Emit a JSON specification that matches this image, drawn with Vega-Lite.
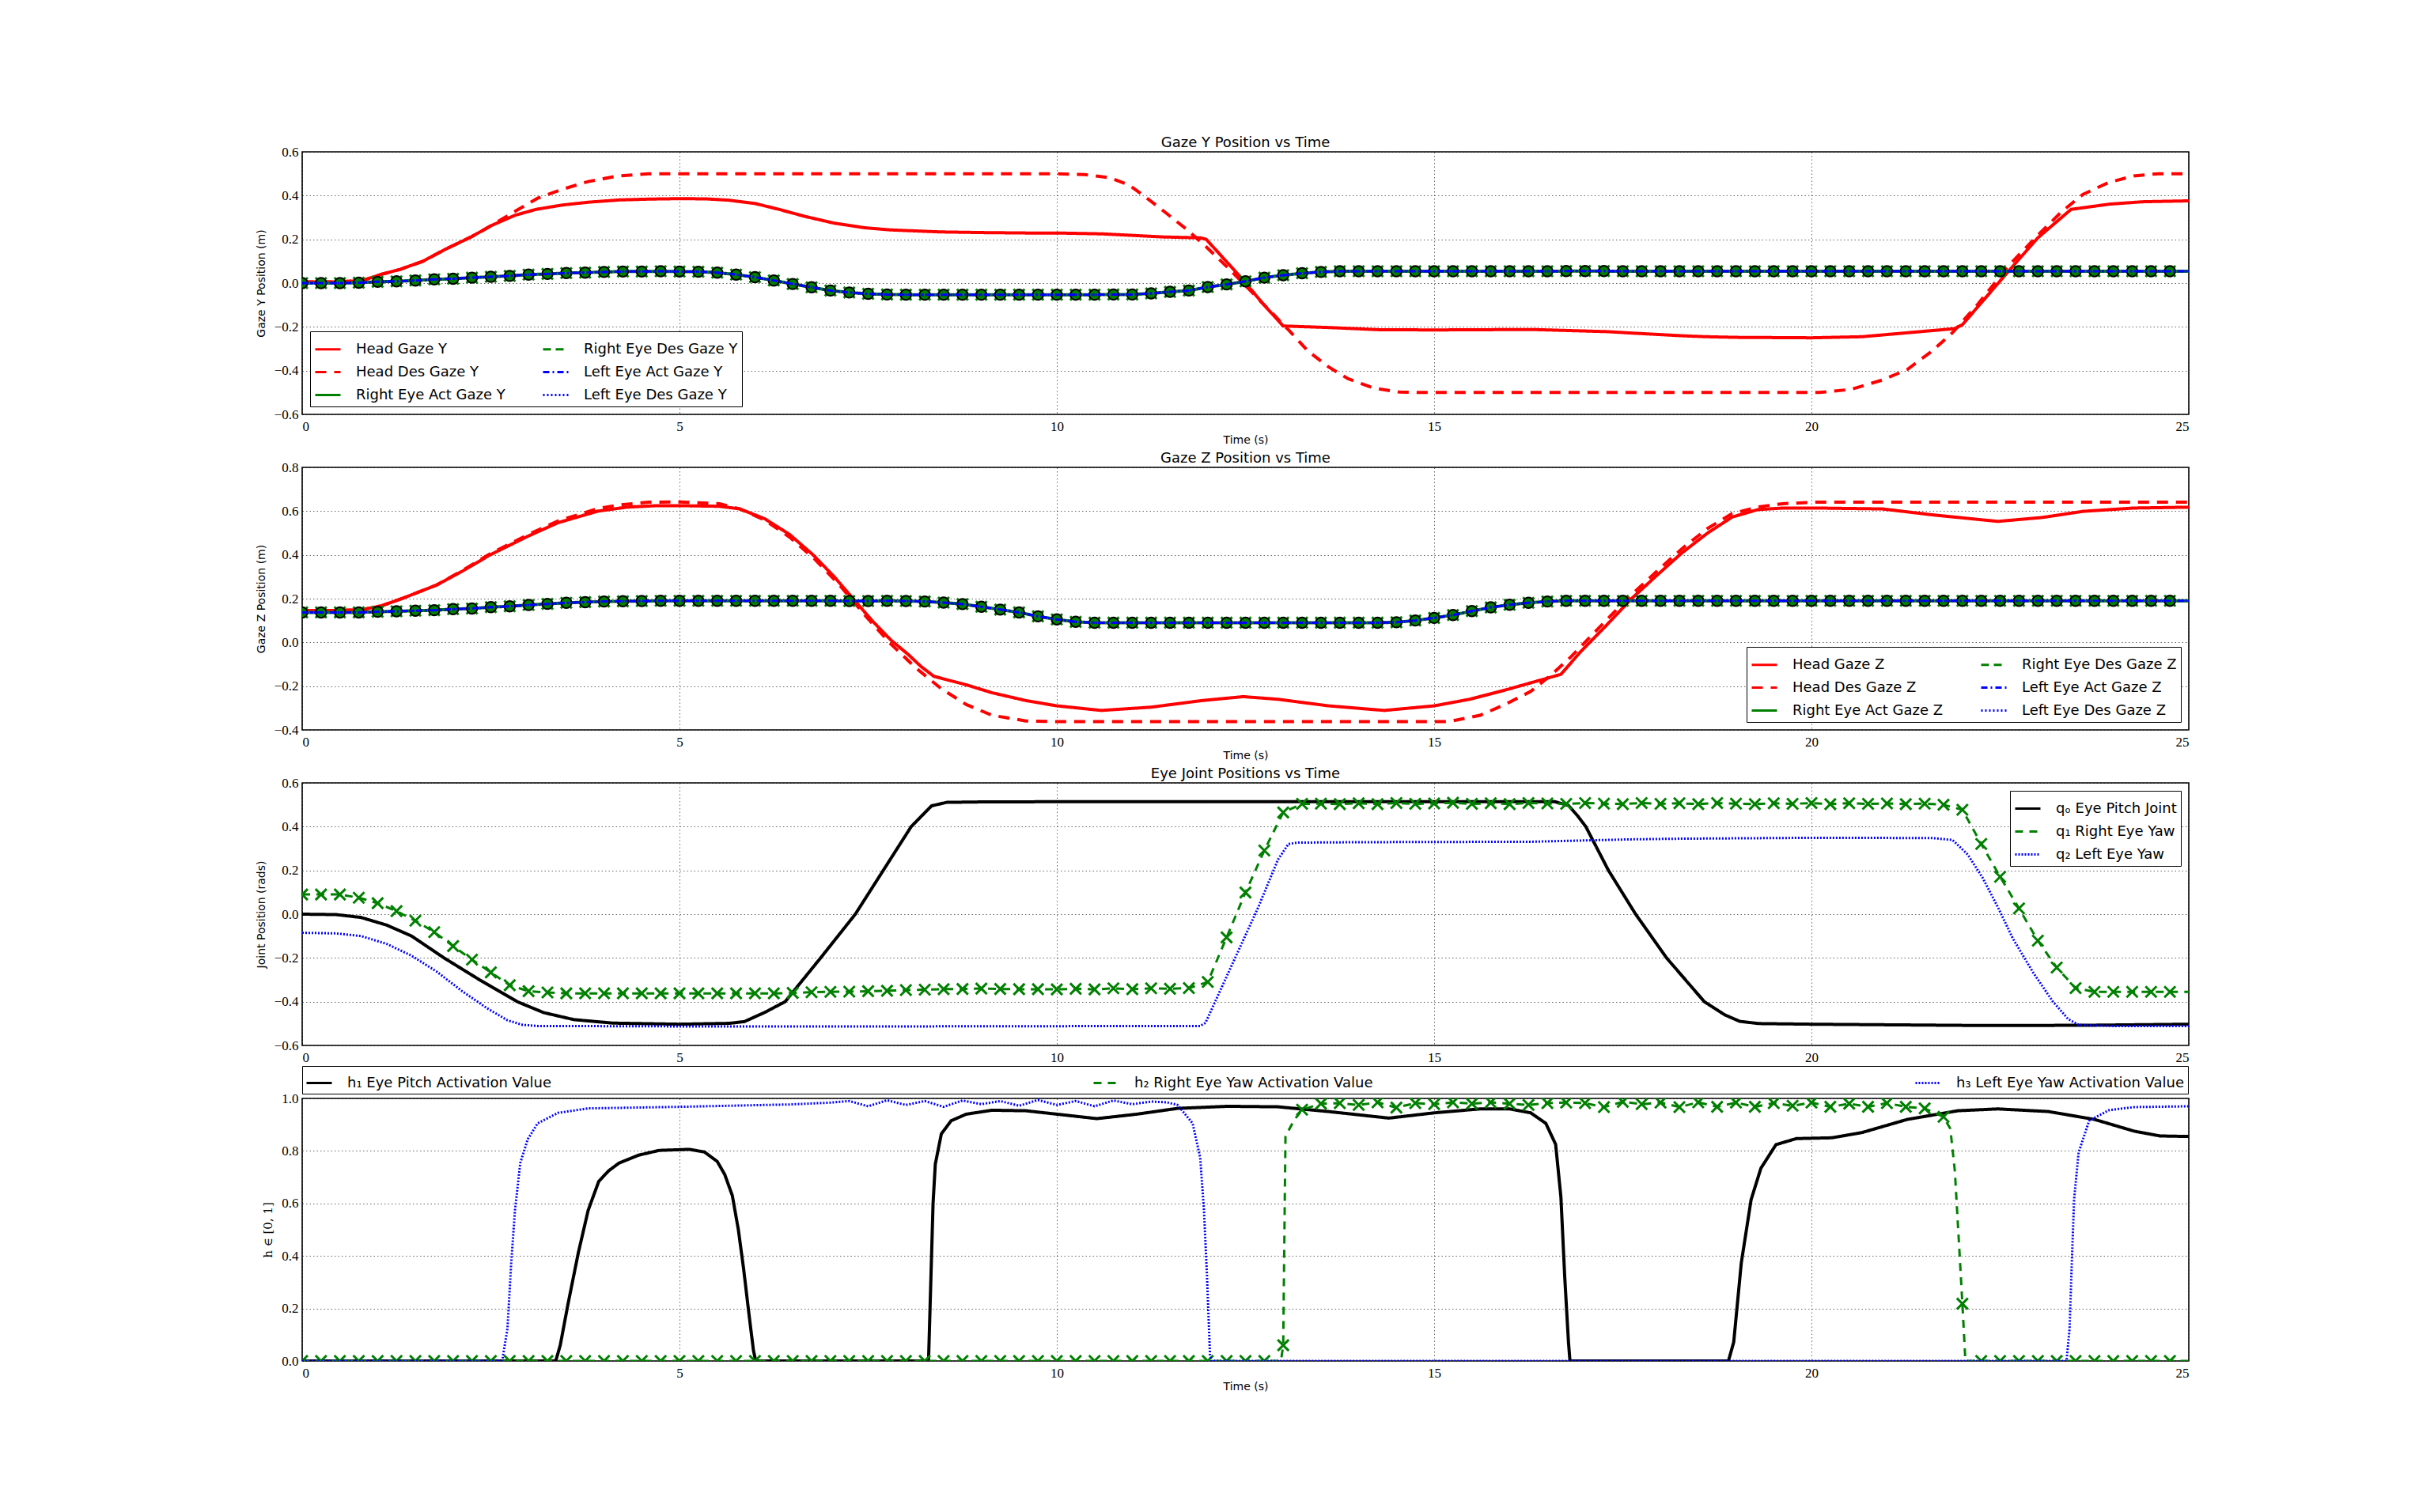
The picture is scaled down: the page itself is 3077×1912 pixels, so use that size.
{
"$schema": "https://vega.github.io/schema/vega-lite/v6.json",
"padding": {"left": 322, "top": 171, "right": 5, "bottom": 5},
"background": "white",
"config": {
 "view": {"stroke": "black", "strokeWidth": 1.6},
 "axis": {"grid": true, "gridColor": "#000", "gridDash": [1.5, 3], "gridWidth": 0.8, "gridOpacity": 0.75, "domain": false, "ticks": false, "labelFont": "Liberation Serif", "labelFontSize": 17, "labelColor": "#000", "titleFont": "DejaVu Sans", "titleFontSize": 14, "titleFontWeight": "normal", "titleColor": "#000"},
 "axisX": {"labelPadding": 7, "titlePadding": 2},
 "axisY": {"labelPadding": 5, "titlePadding": 9},
 "title": {"font": "DejaVu Sans", "fontSize": 18, "fontWeight": "normal", "color": "#000", "offset": -7},
 "legend": {"labelFont": "DejaVu Sans", "labelFontSize": 18, "labelColor": "#000", "labelLimit": 1000, "strokeColor": "#000", "fillColor": "white", "padding": 5, "symbolStrokeWidth": 3, "rowPadding": 2, "columnPadding": 41, "labelOffset": 18, "symbolType": "stroke", "symbolSize": 1024}
},
"datasets": {
"p1": [
{"s":"h","t":0,"v":0.005},{"s":"h","t":0.5,"v":0.006},{"s":"h","t":0.8,"v":0.012},{"s":"h","t":1.05,"v":0.04},{"s":"h","t":1.3,"v":0.063},{"s":"h","t":1.6,"v":0.1},{"s":"h","t":1.9,"v":0.155},{"s":"h","t":2.25,"v":0.213},{"s":"h","t":2.5,"v":0.262},{"s":"h","t":2.82,"v":0.31},{"s":"h","t":3.1,"v":0.337},{"s":"h","t":3.45,"v":0.357},{"s":"h","t":3.8,"v":0.37},{"s":"h","t":4.2,"v":0.38},{"s":"h","t":4.6,"v":0.384},{"s":"h","t":5.0,"v":0.386},{"s":"h","t":5.35,"v":0.385},{"s":"h","t":5.65,"v":0.379},{"s":"h","t":6.0,"v":0.364},{"s":"h","t":6.33,"v":0.336},{"s":"h","t":6.66,"v":0.305},{"s":"h","t":7.05,"v":0.274},{"s":"h","t":7.45,"v":0.253},{"s":"h","t":7.8,"v":0.243},{"s":"h","t":8.45,"v":0.234},{"s":"h","t":9.0,"v":0.231},{"s":"h","t":9.6,"v":0.229},{"s":"h","t":10.0,"v":0.229},{"s":"h","t":10.6,"v":0.225},{"s":"h","t":10.95,"v":0.219},{"s":"h","t":11.4,"v":0.211},{"s":"h","t":11.9,"v":0.207},{"s":"h","t":11.98,"v":0.2},{"s":"h","t":12.47,"v":0.014},{"s":"h","t":12.73,"v":-0.094},{"s":"h","t":13.0,"v":-0.196},{"s":"h","t":13.6,"v":-0.203},{"s":"h","t":14.27,"v":-0.213},{"s":"h","t":15.0,"v":-0.214},{"s":"h","t":16.3,"v":-0.212},{"s":"h","t":17.3,"v":-0.222},{"s":"h","t":17.6,"v":-0.228},{"s":"h","t":18.3,"v":-0.241},{"s":"h","t":18.6,"v":-0.245},{"s":"h","t":19.0,"v":-0.248},{"s":"h","t":20.0,"v":-0.25},{"s":"h","t":20.67,"v":-0.245},{"s":"h","t":21.27,"v":-0.227},{"s":"h","t":21.9,"v":-0.208},{"s":"h","t":22.0,"v":-0.19},{"s":"h","t":22.6,"v":0.05},{"s":"h","t":23.0,"v":0.207},{"s":"h","t":23.44,"v":0.337},{"s":"h","t":23.95,"v":0.361},{"s":"h","t":24.4,"v":0.372},{"s":"h","t":25.0,"v":0.376},
{"s":"hd","t":0,"v":0.005},{"s":"hd","t":0.5,"v":0.006},{"s":"hd","t":0.8,"v":0.012},{"s":"hd","t":1.05,"v":0.04},{"s":"hd","t":1.3,"v":0.063},{"s":"hd","t":1.6,"v":0.1},{"s":"hd","t":1.9,"v":0.155},{"s":"hd","t":2.25,"v":0.213},{"s":"hd","t":2.5,"v":0.262},{"s":"hd","t":2.82,"v":0.328},{"s":"hd","t":3.12,"v":0.388},{"s":"hd","t":3.46,"v":0.43},{"s":"hd","t":3.79,"v":0.464},{"s":"hd","t":4.19,"v":0.49},{"s":"hd","t":4.59,"v":0.5},{"s":"hd","t":5,"v":0.5},{"s":"hd","t":10,"v":0.5},{"s":"hd","t":10.37,"v":0.496},{"s":"hd","t":10.7,"v":0.482},{"s":"hd","t":10.96,"v":0.448},{"s":"hd","t":11.15,"v":0.4},{"s":"hd","t":11.42,"v":0.328},{"s":"hd","t":11.73,"v":0.243},{"s":"hd","t":12.0,"v":0.159},{"s":"hd","t":12.27,"v":0.069},{"s":"hd","t":12.53,"v":-0.022},{"s":"hd","t":12.8,"v":-0.118},{"s":"hd","t":13.07,"v":-0.214},{"s":"hd","t":13.33,"v":-0.311},{"s":"hd","t":13.6,"v":-0.383},{"s":"hd","t":13.86,"v":-0.437},{"s":"hd","t":14.2,"v":-0.48},{"s":"hd","t":14.54,"v":-0.498},{"s":"hd","t":14.8,"v":-0.5},{"s":"hd","t":20.1,"v":-0.5},{"s":"hd","t":20.52,"v":-0.486},{"s":"hd","t":20.94,"v":-0.443},{"s":"hd","t":21.27,"v":-0.395},{"s":"hd","t":21.6,"v":-0.31},{"s":"hd","t":21.87,"v":-0.226},{"s":"hd","t":22.21,"v":-0.094},{"s":"hd","t":22.6,"v":0.075},{"s":"hd","t":23.0,"v":0.219},{"s":"hd","t":23.32,"v":0.328},{"s":"hd","t":23.6,"v":0.406},{"s":"hd","t":23.94,"v":0.46},{"s":"hd","t":24.27,"v":0.49},{"s":"hd","t":24.6,"v":0.5},{"s":"hd","t":25,"v":0.5},
{"s":"e","t":0,"v":0},{"s":"e","t":0.25,"v":0},{"s":"e","t":0.5,"v":0},{"s":"e","t":0.75,"v":0.002},{"s":"e","t":1,"v":0.006},{"s":"e","t":1.25,"v":0.008},{"s":"e","t":1.5,"v":0.012},{"s":"e","t":1.75,"v":0.017},{"s":"e","t":2,"v":0.02},{"s":"e","t":2.25,"v":0.025},{"s":"e","t":2.5,"v":0.029},{"s":"e","t":2.75,"v":0.033},{"s":"e","t":3,"v":0.039},{"s":"e","t":3.25,"v":0.042},{"s":"e","t":3.5,"v":0.046},{"s":"e","t":3.75,"v":0.048},{"s":"e","t":4,"v":0.051},{"s":"e","t":4.25,"v":0.053},{"s":"e","t":4.5,"v":0.053},{"s":"e","t":4.75,"v":0.054},{"s":"e","t":5,"v":0.053},{"s":"e","t":5.25,"v":0.052},{"s":"e","t":5.5,"v":0.048},{"s":"e","t":5.75,"v":0.039},{"s":"e","t":6,"v":0.027},{"s":"e","t":6.25,"v":0.012},{"s":"e","t":6.5,"v":-0.004},{"s":"e","t":6.75,"v":-0.019},{"s":"e","t":7,"v":-0.034},{"s":"e","t":7.25,"v":-0.043},{"s":"e","t":7.5,"v":-0.049},{"s":"e","t":7.75,"v":-0.052},{"s":"e","t":8,"v":-0.053},{"s":"e","t":8.25,"v":-0.053},{"s":"e","t":8.5,"v":-0.053},{"s":"e","t":8.75,"v":-0.053},{"s":"e","t":9,"v":-0.053},{"s":"e","t":9.25,"v":-0.053},{"s":"e","t":9.5,"v":-0.053},{"s":"e","t":9.75,"v":-0.053},{"s":"e","t":10,"v":-0.053},{"s":"e","t":10.25,"v":-0.053},{"s":"e","t":10.5,"v":-0.053},{"s":"e","t":10.75,"v":-0.052},{"s":"e","t":11,"v":-0.052},{"s":"e","t":11.25,"v":-0.047},{"s":"e","t":11.5,"v":-0.04},{"s":"e","t":11.75,"v":-0.034},{"s":"e","t":12,"v":-0.018},{"s":"e","t":12.25,"v":-0.006},{"s":"e","t":12.5,"v":0.008},{"s":"e","t":12.75,"v":0.025},{"s":"e","t":13,"v":0.036},{"s":"e","t":13.25,"v":0.045},{"s":"e","t":13.5,"v":0.051},{"s":"e","t":13.75,"v":0.054},{"s":"e","t":14,"v":0.054},{"s":"e","t":14.25,"v":0.054},{"s":"e","t":14.5,"v":0.054},{"s":"e","t":14.75,"v":0.054},{"s":"e","t":15,"v":0.054},{"s":"e","t":15.25,"v":0.054},{"s":"e","t":15.5,"v":0.054},{"s":"e","t":15.75,"v":0.054},{"s":"e","t":16,"v":0.054},{"s":"e","t":16.25,"v":0.054},{"s":"e","t":16.5,"v":0.054},{"s":"e","t":16.75,"v":0.055},{"s":"e","t":17,"v":0.055},{"s":"e","t":17.25,"v":0.055},{"s":"e","t":17.5,"v":0.054},{"s":"e","t":17.75,"v":0.054},{"s":"e","t":18,"v":0.054},{"s":"e","t":18.25,"v":0.054},{"s":"e","t":18.5,"v":0.054},{"s":"e","t":18.75,"v":0.054},{"s":"e","t":19,"v":0.054},{"s":"e","t":19.25,"v":0.054},{"s":"e","t":19.5,"v":0.054},{"s":"e","t":19.75,"v":0.054},{"s":"e","t":20,"v":0.054},{"s":"e","t":20.25,"v":0.054},{"s":"e","t":20.5,"v":0.054},{"s":"e","t":20.75,"v":0.054},{"s":"e","t":21,"v":0.054},{"s":"e","t":21.25,"v":0.054},{"s":"e","t":21.5,"v":0.054},{"s":"e","t":21.75,"v":0.054},{"s":"e","t":22,"v":0.054},{"s":"e","t":22.25,"v":0.054},{"s":"e","t":22.5,"v":0.054},{"s":"e","t":22.75,"v":0.054},{"s":"e","t":23,"v":0.054},{"s":"e","t":23.25,"v":0.054},{"s":"e","t":23.5,"v":0.054},{"s":"e","t":23.75,"v":0.054},{"s":"e","t":24,"v":0.054},{"s":"e","t":24.25,"v":0.054},{"s":"e","t":24.5,"v":0.054},{"s":"e","t":24.75,"v":0.054},{"s":"e","t":25,"v":0.054}
],
"p2": [
{"s":"h","t":0,"v":0.145},{"s":"h","t":0.5,"v":0.146},{"s":"h","t":0.8,"v":0.15},{"s":"h","t":1.05,"v":0.167},{"s":"h","t":1.32,"v":0.2},{"s":"h","t":1.78,"v":0.262},{"s":"h","t":2.12,"v":0.325},{"s":"h","t":2.49,"v":0.4},{"s":"h","t":2.99,"v":0.485},{"s":"h","t":3.39,"v":0.547},{"s":"h","t":3.92,"v":0.6},{"s":"h","t":4.3,"v":0.618},{"s":"h","t":4.7,"v":0.625},{"s":"h","t":5.0,"v":0.625},{"s":"h","t":5.53,"v":0.622},{"s":"h","t":5.8,"v":0.61},{"s":"h","t":6.13,"v":0.565},{"s":"h","t":6.46,"v":0.493},{"s":"h","t":6.77,"v":0.4},{"s":"h","t":7.05,"v":0.3},{"s":"h","t":7.3,"v":0.2},{"s":"h","t":7.55,"v":0.1},{"s":"h","t":7.8,"v":0.011},{"s":"h","t":8.03,"v":-0.055},{"s":"h","t":8.2,"v":-0.11},{"s":"h","t":8.37,"v":-0.155},{"s":"h","t":8.8,"v":-0.194},{"s":"h","t":9.14,"v":-0.23},{"s":"h","t":9.59,"v":-0.266},{"s":"h","t":10.0,"v":-0.29},{"s":"h","t":10.59,"v":-0.311},{"s":"h","t":11.25,"v":-0.296},{"s":"h","t":11.92,"v":-0.266},{"s":"h","t":12.47,"v":-0.248},{"s":"h","t":12.93,"v":-0.26},{"s":"h","t":13.6,"v":-0.29},{"s":"h","t":14.34,"v":-0.311},{"s":"h","t":15.0,"v":-0.29},{"s":"h","t":15.47,"v":-0.26},{"s":"h","t":15.94,"v":-0.218},{"s":"h","t":16.68,"v":-0.146},{"s":"h","t":16.94,"v":-0.043},{"s":"h","t":17.28,"v":0.077},{"s":"h","t":17.61,"v":0.198},{"s":"h","t":17.95,"v":0.306},{"s":"h","t":18.28,"v":0.408},{"s":"h","t":18.62,"v":0.499},{"s":"h","t":18.95,"v":0.573},{"s":"h","t":19.29,"v":0.607},{"s":"h","t":19.62,"v":0.614},{"s":"h","t":20.08,"v":0.614},{"s":"h","t":20.94,"v":0.61},{"s":"h","t":21.6,"v":0.583},{"s":"h","t":22.47,"v":0.553},{"s":"h","t":23.06,"v":0.571},{"s":"h","t":23.6,"v":0.599},{"s":"h","t":24.27,"v":0.614},{"s":"h","t":25,"v":0.618},
{"s":"hd","t":0,"v":0.145},{"s":"hd","t":0.5,"v":0.146},{"s":"hd","t":0.8,"v":0.15},{"s":"hd","t":1.05,"v":0.167},{"s":"hd","t":1.32,"v":0.2},{"s":"hd","t":1.78,"v":0.262},{"s":"hd","t":2.12,"v":0.328},{"s":"hd","t":2.49,"v":0.405},{"s":"hd","t":2.99,"v":0.492},{"s":"hd","t":3.39,"v":0.555},{"s":"hd","t":3.92,"v":0.612},{"s":"hd","t":4.19,"v":0.628},{"s":"hd","t":4.59,"v":0.641},{"s":"hd","t":5.0,"v":0.642},{"s":"hd","t":5.53,"v":0.634},{"s":"hd","t":5.8,"v":0.61},{"s":"hd","t":6.13,"v":0.559},{"s":"hd","t":6.46,"v":0.481},{"s":"hd","t":6.8,"v":0.378},{"s":"hd","t":7.13,"v":0.258},{"s":"hd","t":7.47,"v":0.119},{"s":"hd","t":7.8,"v":-0.007},{"s":"hd","t":8.13,"v":-0.116},{"s":"hd","t":8.47,"v":-0.212},{"s":"hd","t":8.8,"v":-0.284},{"s":"hd","t":9.14,"v":-0.333},{"s":"hd","t":9.59,"v":-0.359},{"s":"hd","t":10.0,"v":-0.362},{"s":"hd","t":15.2,"v":-0.362},{"s":"hd","t":15.61,"v":-0.333},{"s":"hd","t":15.94,"v":-0.284},{"s":"hd","t":16.28,"v":-0.224},{"s":"hd","t":16.54,"v":-0.152},{"s":"hd","t":16.81,"v":-0.067},{"s":"hd","t":17.28,"v":0.101},{"s":"hd","t":17.61,"v":0.216},{"s":"hd","t":17.95,"v":0.325},{"s":"hd","t":18.28,"v":0.427},{"s":"hd","t":18.62,"v":0.52},{"s":"hd","t":18.95,"v":0.589},{"s":"hd","t":19.29,"v":0.619},{"s":"hd","t":19.62,"v":0.634},{"s":"hd","t":20.08,"v":0.641},{"s":"hd","t":25,"v":0.641},
{"s":"e","t":0,"v":0.137},{"s":"e","t":0.25,"v":0.137},{"s":"e","t":0.5,"v":0.137},{"s":"e","t":0.75,"v":0.137},{"s":"e","t":1,"v":0.14},{"s":"e","t":1.25,"v":0.142},{"s":"e","t":1.5,"v":0.145},{"s":"e","t":1.75,"v":0.147},{"s":"e","t":2,"v":0.152},{"s":"e","t":2.25,"v":0.155},{"s":"e","t":2.5,"v":0.161},{"s":"e","t":2.75,"v":0.165},{"s":"e","t":3,"v":0.171},{"s":"e","t":3.25,"v":0.176},{"s":"e","t":3.5,"v":0.181},{"s":"e","t":3.75,"v":0.184},{"s":"e","t":4,"v":0.187},{"s":"e","t":4.25,"v":0.188},{"s":"e","t":4.5,"v":0.189},{"s":"e","t":4.75,"v":0.19},{"s":"e","t":5,"v":0.19},{"s":"e","t":5.25,"v":0.19},{"s":"e","t":5.5,"v":0.19},{"s":"e","t":5.75,"v":0.19},{"s":"e","t":6,"v":0.19},{"s":"e","t":6.25,"v":0.19},{"s":"e","t":6.5,"v":0.19},{"s":"e","t":6.75,"v":0.19},{"s":"e","t":7,"v":0.19},{"s":"e","t":7.25,"v":0.189},{"s":"e","t":7.5,"v":0.189},{"s":"e","t":7.75,"v":0.19},{"s":"e","t":8,"v":0.189},{"s":"e","t":8.25,"v":0.187},{"s":"e","t":8.5,"v":0.182},{"s":"e","t":8.75,"v":0.175},{"s":"e","t":9,"v":0.163},{"s":"e","t":9.25,"v":0.15},{"s":"e","t":9.5,"v":0.137},{"s":"e","t":9.75,"v":0.119},{"s":"e","t":10,"v":0.105},{"s":"e","t":10.25,"v":0.094},{"s":"e","t":10.5,"v":0.09},{"s":"e","t":10.75,"v":0.09},{"s":"e","t":11,"v":0.09},{"s":"e","t":11.25,"v":0.09},{"s":"e","t":11.5,"v":0.09},{"s":"e","t":11.75,"v":0.09},{"s":"e","t":12,"v":0.09},{"s":"e","t":12.25,"v":0.09},{"s":"e","t":12.5,"v":0.09},{"s":"e","t":12.75,"v":0.09},{"s":"e","t":13,"v":0.09},{"s":"e","t":13.25,"v":0.09},{"s":"e","t":13.5,"v":0.09},{"s":"e","t":13.75,"v":0.09},{"s":"e","t":14,"v":0.09},{"s":"e","t":14.25,"v":0.09},{"s":"e","t":14.5,"v":0.092},{"s":"e","t":14.75,"v":0.1},{"s":"e","t":15,"v":0.112},{"s":"e","t":15.25,"v":0.125},{"s":"e","t":15.5,"v":0.143},{"s":"e","t":15.75,"v":0.16},{"s":"e","t":16,"v":0.172},{"s":"e","t":16.25,"v":0.181},{"s":"e","t":16.5,"v":0.187},{"s":"e","t":16.75,"v":0.19},{"s":"e","t":17,"v":0.19},{"s":"e","t":17.25,"v":0.19},{"s":"e","t":17.5,"v":0.19},{"s":"e","t":17.75,"v":0.19},{"s":"e","t":18,"v":0.19},{"s":"e","t":18.25,"v":0.19},{"s":"e","t":18.5,"v":0.19},{"s":"e","t":18.75,"v":0.19},{"s":"e","t":19,"v":0.19},{"s":"e","t":19.25,"v":0.19},{"s":"e","t":19.5,"v":0.19},{"s":"e","t":19.75,"v":0.19},{"s":"e","t":20,"v":0.19},{"s":"e","t":20.25,"v":0.19},{"s":"e","t":20.5,"v":0.19},{"s":"e","t":20.75,"v":0.19},{"s":"e","t":21,"v":0.19},{"s":"e","t":21.25,"v":0.19},{"s":"e","t":21.5,"v":0.19},{"s":"e","t":21.75,"v":0.19},{"s":"e","t":22,"v":0.19},{"s":"e","t":22.25,"v":0.19},{"s":"e","t":22.5,"v":0.19},{"s":"e","t":22.75,"v":0.19},{"s":"e","t":23,"v":0.19},{"s":"e","t":23.25,"v":0.19},{"s":"e","t":23.5,"v":0.19},{"s":"e","t":23.75,"v":0.19},{"s":"e","t":24,"v":0.19},{"s":"e","t":24.25,"v":0.19},{"s":"e","t":24.5,"v":0.19},{"s":"e","t":24.75,"v":0.19},{"s":"e","t":25,"v":0.19}
],
"p3": [
{"s":"q0","t":0,"v":0},{"s":"q0","t":0.45,"v":-0.002},{"s":"q0","t":0.78,"v":-0.015},{"s":"q0","t":1.12,"v":-0.05},{"s":"q0","t":1.45,"v":-0.1},{"s":"q0","t":1.88,"v":-0.2},{"s":"q0","t":2.35,"v":-0.3},{"s":"q0","t":2.85,"v":-0.4},{"s":"q0","t":3.2,"v":-0.45},{"s":"q0","t":3.6,"v":-0.482},{"s":"q0","t":4.12,"v":-0.498},{"s":"q0","t":5,"v":-0.503},{"s":"q0","t":5.66,"v":-0.499},{"s":"q0","t":5.86,"v":-0.491},{"s":"q0","t":6.13,"v":-0.449},{"s":"q0","t":6.4,"v":-0.4},{"s":"q0","t":6.87,"v":-0.2},{"s":"q0","t":7.33,"v":0},{"s":"q0","t":7.7,"v":0.2},{"s":"q0","t":8.07,"v":0.4},{"s":"q0","t":8.34,"v":0.495},{"s":"q0","t":8.54,"v":0.511},{"s":"q0","t":9,"v":0.513},{"s":"q0","t":10,"v":0.514},{"s":"q0","t":16.6,"v":0.514},{"s":"q0","t":16.78,"v":0.497},{"s":"q0","t":16.9,"v":0.45},{"s":"q0","t":17.01,"v":0.4},{"s":"q0","t":17.31,"v":0.2},{"s":"q0","t":17.67,"v":0},{"s":"q0","t":18.08,"v":-0.2},{"s":"q0","t":18.58,"v":-0.4},{"s":"q0","t":18.85,"v":-0.46},{"s":"q0","t":19.05,"v":-0.49},{"s":"q0","t":19.3,"v":-0.5},{"s":"q0","t":20,"v":-0.503},{"s":"q0","t":22.26,"v":-0.509},{"s":"q0","t":23.6,"v":-0.508},{"s":"q0","t":25,"v":-0.503},
{"s":"q1","t":0,"v":0.09},{"s":"q1","t":0.25,"v":0.09},{"s":"q1","t":0.5,"v":0.09},{"s":"q1","t":0.75,"v":0.075},{"s":"q1","t":1,"v":0.05},{"s":"q1","t":1.25,"v":0.014},{"s":"q1","t":1.5,"v":-0.03},{"s":"q1","t":1.75,"v":-0.082},{"s":"q1","t":2,"v":-0.146},{"s":"q1","t":2.25,"v":-0.208},{"s":"q1","t":2.5,"v":-0.266},{"s":"q1","t":2.75,"v":-0.325},{"s":"q1","t":3,"v":-0.352},{"s":"q1","t":3.25,"v":-0.358},{"s":"q1","t":3.5,"v":-0.362},{"s":"q1","t":3.75,"v":-0.362},{"s":"q1","t":4,"v":-0.362},{"s":"q1","t":4.25,"v":-0.362},{"s":"q1","t":4.5,"v":-0.362},{"s":"q1","t":4.75,"v":-0.362},{"s":"q1","t":5,"v":-0.362},{"s":"q1","t":5.25,"v":-0.362},{"s":"q1","t":5.5,"v":-0.362},{"s":"q1","t":5.75,"v":-0.362},{"s":"q1","t":6,"v":-0.362},{"s":"q1","t":6.25,"v":-0.362},{"s":"q1","t":6.5,"v":-0.36},{"s":"q1","t":6.75,"v":-0.357},{"s":"q1","t":7,"v":-0.355},{"s":"q1","t":7.25,"v":-0.354},{"s":"q1","t":7.5,"v":-0.352},{"s":"q1","t":7.75,"v":-0.35},{"s":"q1","t":8,"v":-0.347},{"s":"q1","t":8.25,"v":-0.345},{"s":"q1","t":8.5,"v":-0.343},{"s":"q1","t":8.75,"v":-0.342},{"s":"q1","t":9,"v":-0.34},{"s":"q1","t":9.25,"v":-0.342},{"s":"q1","t":9.5,"v":-0.343},{"s":"q1","t":9.75,"v":-0.343},{"s":"q1","t":10,"v":-0.344},{"s":"q1","t":10.25,"v":-0.341},{"s":"q1","t":10.5,"v":-0.344},{"s":"q1","t":10.75,"v":-0.339},{"s":"q1","t":11,"v":-0.343},{"s":"q1","t":11.25,"v":-0.339},{"s":"q1","t":11.5,"v":-0.341},{"s":"q1","t":11.75,"v":-0.338},{"s":"q1","t":12,"v":-0.31},{"s":"q1","t":12.25,"v":-0.106},{"s":"q1","t":12.5,"v":0.099},{"s":"q1","t":12.75,"v":0.291},{"s":"q1","t":13,"v":0.465},{"s":"q1","t":13.25,"v":0.504},{"s":"q1","t":13.5,"v":0.505},{"s":"q1","t":13.75,"v":0.503},{"s":"q1","t":14,"v":0.507},{"s":"q1","t":14.25,"v":0.503},{"s":"q1","t":14.5,"v":0.508},{"s":"q1","t":14.75,"v":0.504},{"s":"q1","t":15,"v":0.506},{"s":"q1","t":15.25,"v":0.509},{"s":"q1","t":15.5,"v":0.504},{"s":"q1","t":15.75,"v":0.507},{"s":"q1","t":16,"v":0.503},{"s":"q1","t":16.25,"v":0.508},{"s":"q1","t":16.5,"v":0.506},{"s":"q1","t":16.75,"v":0.504},{"s":"q1","t":17,"v":0.508},{"s":"q1","t":17.25,"v":0.505},{"s":"q1","t":17.5,"v":0.503},{"s":"q1","t":17.75,"v":0.508},{"s":"q1","t":18,"v":0.504},{"s":"q1","t":18.25,"v":0.507},{"s":"q1","t":18.5,"v":0.503},{"s":"q1","t":18.75,"v":0.508},{"s":"q1","t":19,"v":0.505},{"s":"q1","t":19.25,"v":0.503},{"s":"q1","t":19.5,"v":0.507},{"s":"q1","t":19.75,"v":0.504},{"s":"q1","t":20,"v":0.508},{"s":"q1","t":20.25,"v":0.503},{"s":"q1","t":20.5,"v":0.507},{"s":"q1","t":20.75,"v":0.504},{"s":"q1","t":21,"v":0.506},{"s":"q1","t":21.25,"v":0.503},{"s":"q1","t":21.5,"v":0.505},{"s":"q1","t":21.75,"v":0.5},{"s":"q1","t":22,"v":0.477},{"s":"q1","t":22.25,"v":0.321},{"s":"q1","t":22.5,"v":0.171},{"s":"q1","t":22.75,"v":0.026},{"s":"q1","t":23,"v":-0.121},{"s":"q1","t":23.25,"v":-0.244},{"s":"q1","t":23.5,"v":-0.338},{"s":"q1","t":23.75,"v":-0.355},{"s":"q1","t":24,"v":-0.355},{"s":"q1","t":24.25,"v":-0.355},{"s":"q1","t":24.5,"v":-0.355},{"s":"q1","t":24.75,"v":-0.355},{"s":"q1","t":25,"v":-0.355},
{"s":"q2","t":0,"v":-0.085},{"s":"q2","t":0.45,"v":-0.088},{"s":"q2","t":0.78,"v":-0.1},{"s":"q2","t":1.12,"v":-0.136},{"s":"q2","t":1.45,"v":-0.19},{"s":"q2","t":1.78,"v":-0.262},{"s":"q2","t":2.12,"v":-0.352},{"s":"q2","t":2.45,"v":-0.43},{"s":"q2","t":2.72,"v":-0.485},{"s":"q2","t":2.92,"v":-0.506},{"s":"q2","t":3.12,"v":-0.511},{"s":"q2","t":5,"v":-0.513},{"s":"q2","t":8,"v":-0.513},{"s":"q2","t":11.9,"v":-0.511},{"s":"q2","t":11.97,"v":-0.497},{"s":"q2","t":12.13,"v":-0.376},{"s":"q2","t":12.4,"v":-0.172},{"s":"q2","t":12.67,"v":0.032},{"s":"q2","t":12.93,"v":0.249},{"s":"q2","t":13.07,"v":0.321},{"s":"q2","t":13.2,"v":0.327},{"s":"q2","t":14,"v":0.329},{"s":"q2","t":16.28,"v":0.331},{"s":"q2","t":17.61,"v":0.342},{"s":"q2","t":18.27,"v":0.345},{"s":"q2","t":20,"v":0.349},{"s":"q2","t":21.6,"v":0.348},{"s":"q2","t":21.87,"v":0.339},{"s":"q2","t":22.07,"v":0.273},{"s":"q2","t":22.27,"v":0.165},{"s":"q2","t":22.47,"v":0.032},{"s":"q2","t":22.67,"v":-0.112},{"s":"q2","t":22.94,"v":-0.268},{"s":"q2","t":23.2,"v":-0.4},{"s":"q2","t":23.4,"v":-0.479},{"s":"q2","t":23.54,"v":-0.506},{"s":"q2","t":24,"v":-0.511},{"s":"q2","t":25,"v":-0.511}
],
"p4": [
{"s":"h1","t":0,"v":0},{"s":"h1","t":3.36,"v":0},{"s":"h1","t":3.42,"v":0.06},{"s":"h1","t":3.52,"v":0.213},{"s":"h1","t":3.66,"v":0.413},{"s":"h1","t":3.79,"v":0.574},{"s":"h1","t":3.93,"v":0.684},{"s":"h1","t":4.06,"v":0.724},{"s":"h1","t":4.2,"v":0.754},{"s":"h1","t":4.46,"v":0.784},{"s":"h1","t":4.73,"v":0.802},{"s":"h1","t":5.13,"v":0.806},{"s":"h1","t":5.33,"v":0.796},{"s":"h1","t":5.5,"v":0.76},{"s":"h1","t":5.6,"v":0.71},{"s":"h1","t":5.7,"v":0.63},{"s":"h1","t":5.78,"v":0.5},{"s":"h1","t":5.85,"v":0.35},{"s":"h1","t":5.92,"v":0.18},{"s":"h1","t":5.98,"v":0.04},{"s":"h1","t":6.01,"v":0},{"s":"h1","t":8.3,"v":0},{"s":"h1","t":8.33,"v":0.3},{"s":"h1","t":8.36,"v":0.6},{"s":"h1","t":8.39,"v":0.75},{"s":"h1","t":8.47,"v":0.865},{"s":"h1","t":8.6,"v":0.915},{"s":"h1","t":8.8,"v":0.94},{"s":"h1","t":9.14,"v":0.955},{"s":"h1","t":9.59,"v":0.953},{"s":"h1","t":10.0,"v":0.94},{"s":"h1","t":10.53,"v":0.923},{"s":"h1","t":11.06,"v":0.94},{"s":"h1","t":11.6,"v":0.962},{"s":"h1","t":12.27,"v":0.97},{"s":"h1","t":12.93,"v":0.968},{"s":"h1","t":13.6,"v":0.95},{"s":"h1","t":14.4,"v":0.925},{"s":"h1","t":15.0,"v":0.945},{"s":"h1","t":15.61,"v":0.96},{"s":"h1","t":16.0,"v":0.96},{"s":"h1","t":16.28,"v":0.945},{"s":"h1","t":16.48,"v":0.905},{"s":"h1","t":16.61,"v":0.825},{"s":"h1","t":16.68,"v":0.624},{"s":"h1","t":16.73,"v":0.323},{"s":"h1","t":16.78,"v":0.072},{"s":"h1","t":16.8,"v":0},{"s":"h1","t":18.9,"v":0},{"s":"h1","t":18.97,"v":0.072},{"s":"h1","t":19.07,"v":0.373},{"s":"h1","t":19.2,"v":0.614},{"s":"h1","t":19.33,"v":0.734},{"s":"h1","t":19.53,"v":0.824},{"s":"h1","t":19.8,"v":0.847},{"s":"h1","t":20.27,"v":0.85},{"s":"h1","t":20.67,"v":0.87},{"s":"h1","t":21.27,"v":0.92},{"s":"h1","t":21.94,"v":0.953},{"s":"h1","t":22.47,"v":0.96},{"s":"h1","t":23.14,"v":0.95},{"s":"h1","t":23.75,"v":0.92},{"s":"h1","t":24.28,"v":0.875},{"s":"h1","t":24.62,"v":0.857},{"s":"h1","t":25,"v":0.855},
{"s":"h2","t":0,"v":0},{"s":"h2","t":0.25,"v":0},{"s":"h2","t":0.5,"v":0},{"s":"h2","t":0.75,"v":0},{"s":"h2","t":1,"v":0},{"s":"h2","t":1.25,"v":0},{"s":"h2","t":1.5,"v":0},{"s":"h2","t":1.75,"v":0},{"s":"h2","t":2,"v":0},{"s":"h2","t":2.25,"v":0},{"s":"h2","t":2.5,"v":0},{"s":"h2","t":2.75,"v":0},{"s":"h2","t":3,"v":0},{"s":"h2","t":3.25,"v":0},{"s":"h2","t":3.5,"v":0},{"s":"h2","t":3.75,"v":0},{"s":"h2","t":4,"v":0},{"s":"h2","t":4.25,"v":0},{"s":"h2","t":4.5,"v":0},{"s":"h2","t":4.75,"v":0},{"s":"h2","t":5,"v":0},{"s":"h2","t":5.25,"v":0},{"s":"h2","t":5.5,"v":0},{"s":"h2","t":5.75,"v":0},{"s":"h2","t":6,"v":0},{"s":"h2","t":6.25,"v":0},{"s":"h2","t":6.5,"v":0},{"s":"h2","t":6.75,"v":0},{"s":"h2","t":7,"v":0},{"s":"h2","t":7.25,"v":0},{"s":"h2","t":7.5,"v":0},{"s":"h2","t":7.75,"v":0},{"s":"h2","t":8,"v":0},{"s":"h2","t":8.25,"v":0},{"s":"h2","t":8.5,"v":0},{"s":"h2","t":8.75,"v":0},{"s":"h2","t":9,"v":0},{"s":"h2","t":9.25,"v":0},{"s":"h2","t":9.5,"v":0},{"s":"h2","t":9.75,"v":0},{"s":"h2","t":10,"v":0},{"s":"h2","t":10.25,"v":0},{"s":"h2","t":10.5,"v":0},{"s":"h2","t":10.75,"v":0},{"s":"h2","t":11,"v":0},{"s":"h2","t":11.25,"v":0},{"s":"h2","t":11.5,"v":0},{"s":"h2","t":11.75,"v":0},{"s":"h2","t":12,"v":0},{"s":"h2","t":12.25,"v":0},{"s":"h2","t":12.5,"v":0},{"s":"h2","t":12.75,"v":0},{"s":"h2","t":12.97,"v":0},{"s":"h2","t":13,"v":0.06},{"s":"h2","t":13.03,"v":0.855},{"s":"h2","t":13.14,"v":0.915},{"s":"h2","t":13.25,"v":0.957},{"s":"h2","t":13.5,"v":0.98},{"s":"h2","t":13.75,"v":0.982},{"s":"h2","t":14,"v":0.975},{"s":"h2","t":14.25,"v":0.985},{"s":"h2","t":14.5,"v":0.965},{"s":"h2","t":14.75,"v":0.982},{"s":"h2","t":15,"v":0.978},{"s":"h2","t":15.25,"v":0.985},{"s":"h2","t":15.5,"v":0.98},{"s":"h2","t":15.75,"v":0.985},{"s":"h2","t":16,"v":0.98},{"s":"h2","t":16.25,"v":0.975},{"s":"h2","t":16.5,"v":0.982},{"s":"h2","t":16.75,"v":0.984},{"s":"h2","t":17,"v":0.982},{"s":"h2","t":17.25,"v":0.967},{"s":"h2","t":17.5,"v":0.987},{"s":"h2","t":17.75,"v":0.978},{"s":"h2","t":18,"v":0.984},{"s":"h2","t":18.25,"v":0.967},{"s":"h2","t":18.5,"v":0.985},{"s":"h2","t":18.75,"v":0.968},{"s":"h2","t":19,"v":0.984},{"s":"h2","t":19.25,"v":0.968},{"s":"h2","t":19.5,"v":0.982},{"s":"h2","t":19.75,"v":0.972},{"s":"h2","t":20,"v":0.984},{"s":"h2","t":20.25,"v":0.968},{"s":"h2","t":20.5,"v":0.98},{"s":"h2","t":20.75,"v":0.968},{"s":"h2","t":21,"v":0.982},{"s":"h2","t":21.25,"v":0.968},{"s":"h2","t":21.5,"v":0.962},{"s":"h2","t":21.75,"v":0.93},{"s":"h2","t":21.84,"v":0.885},{"s":"h2","t":21.9,"v":0.724},{"s":"h2","t":21.95,"v":0.473},{"s":"h2","t":22,"v":0.218},{"s":"h2","t":22.04,"v":0},{"s":"h2","t":22.25,"v":0},{"s":"h2","t":22.5,"v":0},{"s":"h2","t":22.75,"v":0},{"s":"h2","t":23,"v":0},{"s":"h2","t":23.25,"v":0},{"s":"h2","t":23.5,"v":0},{"s":"h2","t":23.75,"v":0},{"s":"h2","t":24,"v":0},{"s":"h2","t":24.25,"v":0},{"s":"h2","t":24.5,"v":0},{"s":"h2","t":24.75,"v":0},{"s":"h2","t":25,"v":0},
{"s":"h3","t":0,"v":0},{"s":"h3","t":2.65,"v":0},{"s":"h3","t":2.72,"v":0.122},{"s":"h3","t":2.77,"v":0.373},{"s":"h3","t":2.82,"v":0.574},{"s":"h3","t":2.89,"v":0.754},{"s":"h3","t":2.99,"v":0.845},{"s":"h3","t":3.12,"v":0.905},{"s":"h3","t":3.39,"v":0.945},{"s":"h3","t":3.79,"v":0.962},{"s":"h3","t":5,"v":0.968},{"s":"h3","t":6.46,"v":0.977},{"s":"h3","t":7.0,"v":0.984},{"s":"h3","t":7.25,"v":0.99},{"s":"h3","t":7.5,"v":0.97},{"s":"h3","t":7.75,"v":0.993},{"s":"h3","t":8.0,"v":0.975},{"s":"h3","t":8.25,"v":0.99},{"s":"h3","t":8.5,"v":0.968},{"s":"h3","t":8.75,"v":0.992},{"s":"h3","t":9.0,"v":0.978},{"s":"h3","t":9.25,"v":0.99},{"s":"h3","t":9.5,"v":0.972},{"s":"h3","t":9.75,"v":0.994},{"s":"h3","t":10.0,"v":0.975},{"s":"h3","t":10.25,"v":0.99},{"s":"h3","t":10.5,"v":0.97},{"s":"h3","t":10.75,"v":0.992},{"s":"h3","t":11.0,"v":0.978},{"s":"h3","t":11.25,"v":0.988},{"s":"h3","t":11.46,"v":0.985},{"s":"h3","t":11.6,"v":0.975},{"s":"h3","t":11.8,"v":0.905},{"s":"h3","t":11.9,"v":0.774},{"s":"h3","t":11.95,"v":0.574},{"s":"h3","t":11.99,"v":0.323},{"s":"h3","t":12.03,"v":0.022},{"s":"h3","t":12.05,"v":0},{"s":"h3","t":23.38,"v":0},{"s":"h3","t":23.42,"v":0.122},{"s":"h3","t":23.45,"v":0.373},{"s":"h3","t":23.48,"v":0.614},{"s":"h3","t":23.54,"v":0.794},{"s":"h3","t":23.68,"v":0.915},{"s":"h3","t":23.94,"v":0.955},{"s":"h3","t":24.28,"v":0.967},{"s":"h3","t":25,"v":0.97}
]
},
"spacing": 67,
"bounds": "flush",
"resolve": {"scale": {"x": "independent", "y": "independent", "color": "independent", "strokeDash": "independent"}, "legend": {"color": "independent", "strokeDash": "independent"}},
"vconcat": [
{
 "width": 2385, "height": 332,
 "title": {"text": "Gaze Y Position vs Time"},
 "data": {"name": "p1"},
 "encoding": {
  "x": {"field": "t", "type": "quantitative", "scale": {"domain": [0, 25], "nice": false, "zero": false}, "axis": {"values": [0, 5, 10, 15, 20, 25], "format": "d", "title": "Time (s)"}},
  "y": {"field": "v", "type": "quantitative", "scale": {"domain": [-0.6, 0.6], "nice": false, "zero": false}, "axis": {"values": [-0.6, -0.4, -0.2, 0, 0.2, 0.4, 0.6], "format": ".1f", "title": "Gaze Y Position (m)"}}
 },
 "layer": [
  {"transform": [{"filter": "datum.s=='h'"}], "mark": {"type": "line", "strokeWidth": 4, "clip": true},
   "encoding": {
    "color": {"datum": "Head Gaze Y", "type": "nominal",
     "scale": {"domain": ["Head Gaze Y", "Head Des Gaze Y", "Right Eye Act Gaze Y", "Right Eye Des Gaze Y", "Left Eye Act Gaze Y", "Left Eye Des Gaze Y"], "range": ["#ff0000", "#ff0000", "#008000", "#008000", "#0000ff", "#0000ff"]},
     "legend": {"orient": "bottom-left", "offset": 10, "columns": 2, "title": null}},
    "strokeDash": {"datum": "Head Gaze Y", "type": "nominal",
     "scale": {"domain": ["Head Gaze Y", "Head Des Gaze Y", "Right Eye Act Gaze Y", "Right Eye Des Gaze Y", "Left Eye Act Gaze Y", "Left Eye Des Gaze Y"], "range": [[1, 0], [14, 10], [1, 0], [10, 6], [8, 4, 2, 4], [2, 3]]},
     "legend": {"orient": "bottom-left", "offset": 10, "columns": 2, "title": null}}}},
  {"transform": [{"filter": "datum.s=='hd'"}], "mark": {"type": "line", "strokeWidth": 4, "clip": true}, "encoding": {"color": {"datum": "Head Des Gaze Y", "type": "nominal"}, "strokeDash": {"datum": "Head Des Gaze Y", "type": "nominal"}}},
  {"transform": [{"filter": "datum.s=='e'"}], "mark": {"type": "line", "strokeWidth": 4, "clip": true}, "encoding": {"color": {"datum": "Right Eye Act Gaze Y", "type": "nominal"}, "strokeDash": {"datum": "Right Eye Act Gaze Y", "type": "nominal"}}},
  {"transform": [{"filter": "datum.s=='e' && datum.t<24.9"}], "mark": {"type": "point", "shape": "M-1,-1L1,1M-1,1L1,-1", "size": 196, "strokeWidth": 3, "filled": false, "opacity": 1, "clip": true}, "encoding": {"color": {"datum": "Right Eye Act Gaze Y", "type": "nominal"}}},
  {"transform": [{"filter": "datum.s=='e'"}], "mark": {"type": "line", "strokeWidth": 3, "clip": true}, "encoding": {"color": {"datum": "Right Eye Des Gaze Y", "type": "nominal"}, "strokeDash": {"datum": "Right Eye Des Gaze Y", "type": "nominal"}}},
  {"transform": [{"filter": "datum.s=='e' && datum.t<24.9"}], "mark": {"type": "point", "shape": "circle", "size": 180, "filled": true, "stroke": "#000000", "strokeWidth": 2, "opacity": 1, "clip": true}, "encoding": {"color": {"datum": "Right Eye Des Gaze Y", "type": "nominal"}}},
  {"transform": [{"filter": "datum.s=='e'"}], "mark": {"type": "line", "strokeWidth": 3, "clip": true}, "encoding": {"color": {"datum": "Left Eye Act Gaze Y", "type": "nominal"}, "strokeDash": {"datum": "Left Eye Act Gaze Y", "type": "nominal"}}},
  {"transform": [{"filter": "datum.s=='e'"}], "mark": {"type": "line", "strokeWidth": 3, "clip": true}, "encoding": {"color": {"datum": "Left Eye Des Gaze Y", "type": "nominal"}, "strokeDash": {"datum": "Left Eye Des Gaze Y", "type": "nominal"}}}
 ]
},
{
 "width": 2385, "height": 332,
 "title": {"text": "Gaze Z Position vs Time"},
 "data": {"name": "p2"},
 "encoding": {
  "x": {"field": "t", "type": "quantitative", "scale": {"domain": [0, 25], "nice": false, "zero": false}, "axis": {"values": [0, 5, 10, 15, 20, 25], "format": "d", "title": "Time (s)"}},
  "y": {"field": "v", "type": "quantitative", "scale": {"domain": [-0.4, 0.8], "nice": false, "zero": false}, "axis": {"values": [-0.4, -0.2, 0, 0.2, 0.4, 0.6, 0.8], "format": ".1f", "title": "Gaze Z Position (m)"}}
 },
 "layer": [
  {"transform": [{"filter": "datum.s=='h'"}], "mark": {"type": "line", "strokeWidth": 4, "clip": true},
   "encoding": {
    "color": {"datum": "Head Gaze Z", "type": "nominal",
     "scale": {"domain": ["Head Gaze Z", "Head Des Gaze Z", "Right Eye Act Gaze Z", "Right Eye Des Gaze Z", "Left Eye Act Gaze Z", "Left Eye Des Gaze Z"], "range": ["#ff0000", "#ff0000", "#008000", "#008000", "#0000ff", "#0000ff"]},
     "legend": {"orient": "bottom-right", "offset": 10, "columns": 2, "title": null}},
    "strokeDash": {"datum": "Head Gaze Z", "type": "nominal",
     "scale": {"domain": ["Head Gaze Z", "Head Des Gaze Z", "Right Eye Act Gaze Z", "Right Eye Des Gaze Z", "Left Eye Act Gaze Z", "Left Eye Des Gaze Z"], "range": [[1, 0], [14, 10], [1, 0], [10, 6], [8, 4, 2, 4], [2, 3]]},
     "legend": {"orient": "bottom-right", "offset": 10, "columns": 2, "title": null}}}},
  {"transform": [{"filter": "datum.s=='hd'"}], "mark": {"type": "line", "strokeWidth": 4, "clip": true}, "encoding": {"color": {"datum": "Head Des Gaze Z", "type": "nominal"}, "strokeDash": {"datum": "Head Des Gaze Z", "type": "nominal"}}},
  {"transform": [{"filter": "datum.s=='e'"}], "mark": {"type": "line", "strokeWidth": 4, "clip": true}, "encoding": {"color": {"datum": "Right Eye Act Gaze Z", "type": "nominal"}, "strokeDash": {"datum": "Right Eye Act Gaze Z", "type": "nominal"}}},
  {"transform": [{"filter": "datum.s=='e' && datum.t<24.9"}], "mark": {"type": "point", "shape": "M-1,-1L1,1M-1,1L1,-1", "size": 196, "strokeWidth": 3, "filled": false, "opacity": 1, "clip": true}, "encoding": {"color": {"datum": "Right Eye Act Gaze Z", "type": "nominal"}}},
  {"transform": [{"filter": "datum.s=='e'"}], "mark": {"type": "line", "strokeWidth": 3, "clip": true}, "encoding": {"color": {"datum": "Right Eye Des Gaze Z", "type": "nominal"}, "strokeDash": {"datum": "Right Eye Des Gaze Z", "type": "nominal"}}},
  {"transform": [{"filter": "datum.s=='e' && datum.t<24.9"}], "mark": {"type": "point", "shape": "circle", "size": 180, "filled": true, "stroke": "#000000", "strokeWidth": 2, "opacity": 1, "clip": true}, "encoding": {"color": {"datum": "Right Eye Des Gaze Z", "type": "nominal"}}},
  {"transform": [{"filter": "datum.s=='e'"}], "mark": {"type": "line", "strokeWidth": 3, "clip": true}, "encoding": {"color": {"datum": "Left Eye Act Gaze Z", "type": "nominal"}, "strokeDash": {"datum": "Left Eye Act Gaze Z", "type": "nominal"}}},
  {"transform": [{"filter": "datum.s=='e'"}], "mark": {"type": "line", "strokeWidth": 3, "clip": true}, "encoding": {"color": {"datum": "Left Eye Des Gaze Z", "type": "nominal"}, "strokeDash": {"datum": "Left Eye Des Gaze Z", "type": "nominal"}}}
 ]
},
{
 "width": 2385, "height": 332,
 "title": {"text": "Eye Joint Positions vs Time"},
 "data": {"name": "p3"},
 "encoding": {
  "x": {"field": "t", "type": "quantitative", "scale": {"domain": [0, 25], "nice": false, "zero": false}, "axis": {"values": [0, 5, 10, 15, 20, 25], "format": "d", "title": "Time (s)"}},
  "y": {"field": "v", "type": "quantitative", "scale": {"domain": [-0.6, 0.6], "nice": false, "zero": false}, "axis": {"values": [-0.6, -0.4, -0.2, 0, 0.2, 0.4, 0.6], "format": ".1f", "title": "Joint Position (rads)"}}
 },
 "layer": [
  {"transform": [{"filter": "datum.s=='q0'"}], "mark": {"type": "line", "strokeWidth": 4, "clip": true},
   "encoding": {
    "color": {"datum": "qₒ Eye Pitch Joint", "type": "nominal",
     "scale": {"domain": ["qₒ Eye Pitch Joint", "q₁ Right Eye Yaw", "q₂ Left Eye Yaw"], "range": ["#000000", "#008000", "#0000ff"]},
     "legend": {"orient": "top-right", "offset": 10, "columns": 1, "title": null}},
    "strokeDash": {"datum": "qₒ Eye Pitch Joint", "type": "nominal",
     "scale": {"domain": ["qₒ Eye Pitch Joint", "q₁ Right Eye Yaw", "q₂ Left Eye Yaw"], "range": [[1, 0], [10, 8], [2, 2]]},
     "legend": {"orient": "top-right", "offset": 10, "columns": 1, "title": null}}}},
  {"transform": [{"filter": "datum.s=='q1'"}], "mark": {"type": "line", "strokeWidth": 3, "clip": true}, "encoding": {"color": {"datum": "q₁ Right Eye Yaw", "type": "nominal"}, "strokeDash": {"datum": "q₁ Right Eye Yaw", "type": "nominal"}}},
  {"transform": [{"filter": "datum.s=='q1' && datum.t<24.9"}], "mark": {"type": "point", "shape": "M-1,-1L1,1M-1,1L1,-1", "size": 196, "strokeWidth": 3, "filled": false, "opacity": 1, "clip": true}, "encoding": {"color": {"datum": "q₁ Right Eye Yaw", "type": "nominal"}}},
  {"transform": [{"filter": "datum.s=='q2'"}], "mark": {"type": "line", "strokeWidth": 3, "clip": true}, "encoding": {"color": {"datum": "q₂ Left Eye Yaw", "type": "nominal"}, "strokeDash": {"datum": "q₂ Left Eye Yaw", "type": "nominal"}}}
 ]
},
{
 "width": 2385, "height": 332,
 "data": {"name": "p4"},
 "encoding": {
  "x": {"field": "t", "type": "quantitative", "scale": {"domain": [0, 25], "nice": false, "zero": false}, "axis": {"values": [0, 5, 10, 15, 20, 25], "format": "d", "title": "Time (s)"}},
  "y": {"field": "v", "type": "quantitative", "scale": {"domain": [0, 1], "nice": false, "zero": false}, "axis": {"values": [0, 0.2, 0.4, 0.6, 0.8, 1.0], "format": ".1f", "title": "h ∈ [0, 1]", "titleFont": "DejaVu Serif", "titleFontSize": 15}}
 },
 "layer": [
  {"transform": [{"filter": "datum.s=='h1'"}], "mark": {"type": "line", "strokeWidth": 4, "clip": true},
   "encoding": {
    "color": {"datum": "h₁ Eye Pitch Activation Value", "type": "nominal",
     "scale": {"domain": ["h₁ Eye Pitch Activation Value", "h₂ Right Eye Yaw Activation Value", "h₃ Left Eye Yaw Activation Value"], "range": ["#000000", "#008000", "#0000ff"]},
     "legend": {"orient": "none", "legendX": 0, "legendY": -41, "direction": "horizontal", "gridAlign": "none", "columnPadding": 679, "padding": 4, "title": null}},
    "strokeDash": {"datum": "h₁ Eye Pitch Activation Value", "type": "nominal",
     "scale": {"domain": ["h₁ Eye Pitch Activation Value", "h₂ Right Eye Yaw Activation Value", "h₃ Left Eye Yaw Activation Value"], "range": [[1, 0], [10, 8], [2, 2]]},
     "legend": {"orient": "none", "legendX": 0, "legendY": -41, "direction": "horizontal", "gridAlign": "none", "columnPadding": 679, "padding": 4, "title": null}}}},
  {"transform": [{"filter": "datum.s=='h2'"}], "mark": {"type": "line", "strokeWidth": 3, "clip": true}, "encoding": {"color": {"datum": "h₂ Right Eye Yaw Activation Value", "type": "nominal"}, "strokeDash": {"datum": "h₂ Right Eye Yaw Activation Value", "type": "nominal"}}},
  {"transform": [{"filter": "datum.s=='h2' && datum.t<24.9 && abs(datum.t*4-round(datum.t*4))<0.001"}], "mark": {"type": "point", "shape": "M-1,-1L1,1M-1,1L1,-1", "size": 196, "strokeWidth": 3, "filled": false, "opacity": 1, "clip": true}, "encoding": {"color": {"datum": "h₂ Right Eye Yaw Activation Value", "type": "nominal"}}},
  {"transform": [{"filter": "datum.s=='h3'"}], "mark": {"type": "line", "strokeWidth": 3, "clip": true}, "encoding": {"color": {"datum": "h₃ Left Eye Yaw Activation Value", "type": "nominal"}, "strokeDash": {"datum": "h₃ Left Eye Yaw Activation Value", "type": "nominal"}}}
 ]
}
]
}
